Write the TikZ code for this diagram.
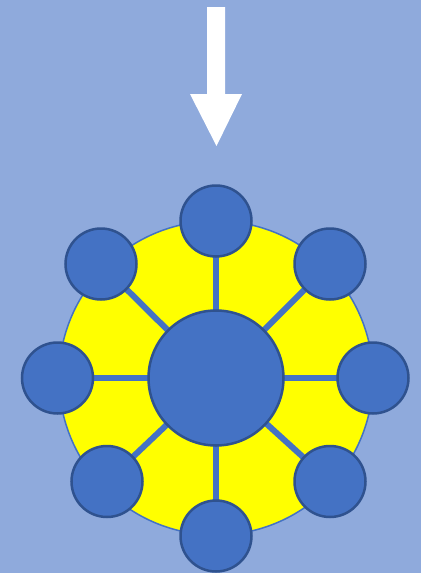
\documentclass[tikz,border=0pt]{standalone}
\definecolor{bgblue}{HTML}{8FAADC}
\definecolor{accent}{HTML}{4472C4}
\definecolor{darkedge}{HTML}{2F528F}
\definecolor{sunyellow}{HTML}{FFFF00}
\begin{document}
\begin{tikzpicture}[x=1pt,y=-1pt,
  sat/.style={circle,fill=accent,draw=darkedge,line width=2.5pt,minimum size=71pt,inner sep=0pt},
  hub/.style={circle,fill=accent,draw=darkedge,line width=2.5pt,minimum size=135pt,inner sep=0pt},
  spoke/.style={draw=accent,line width=6pt}]
\fill[bgblue] (0,0) rectangle (421,573);
\useasboundingbox (0,0) rectangle (421,573);
% arrow
\fill[white] (207,7) -- (225,7) -- (225,94) -- (242,94) -- (216.5,146) -- (190,94) -- (207,94) -- cycle;
% yellow disc
\draw[fill=sunyellow,draw=accent,line width=1.5pt] (216,378) circle[radius=157];
\coordinate (c) at (216,378);
% satellites positions
\coordinate (pt) at (216,221);
\coordinate (ptl) at (101,264);
\coordinate (ptr) at (330,264);
\coordinate (pl) at (57.5,378);
\coordinate (pr) at (373,378);
\coordinate (pbl) at (107,481.5);
\coordinate (pbr) at (330,481.5);
\coordinate (pb) at (216,536);
\foreach \p in {pt,ptl,ptr,pl,pr,pbl,pbr,pb}{\draw[spoke] (c) -- (\p);}
\node[hub] (center) at (c) {};
\node[sat] (t) at (pt) {};
\node[sat] (tl) at (ptl) {};
\node[sat] (tr) at (ptr) {};
\node[sat] (l) at (pl) {};
\node[sat] (r) at (pr) {};
\node[sat] (bl) at (pbl) {};
\node[sat] (br) at (pbr) {};
\node[sat] (b) at (pb) {};
\end{tikzpicture}
\end{document}
